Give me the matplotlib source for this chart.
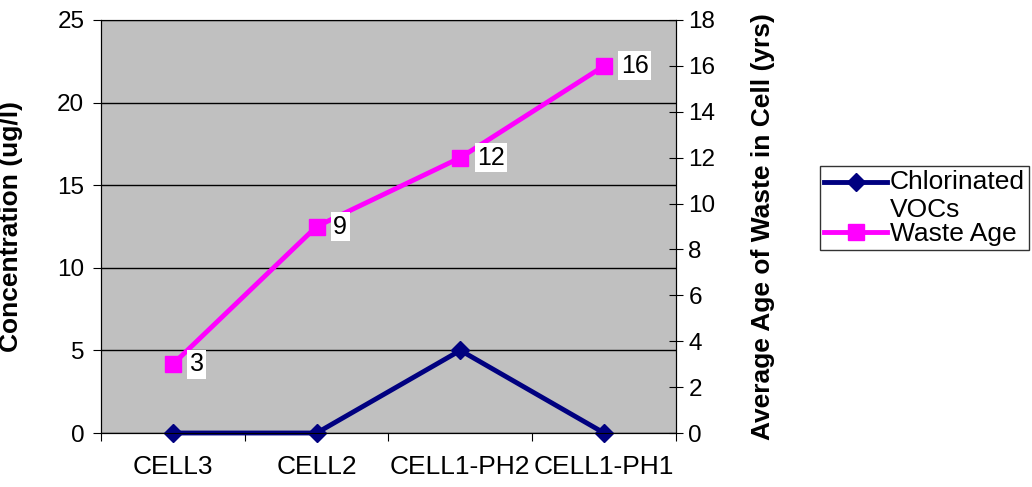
import matplotlib
matplotlib.use("Agg")
import matplotlib.pyplot as plt
from matplotlib.legend_handler import HandlerLine2D

plt.rcParams['font.family'] = ['Liberation Sans', 'DejaVu Sans']

cells = ["CELL3", "CELL2", "CELL1-PH2", "CELL1-PH1"]
voc_conc = [0, 0, 5, 0]
waste_age = [3, 9, 12, 16]


class FirstLineHandler(HandlerLine2D):
    # put the legend marker next to the first line of a two-line label
    def create_artists(self, legend, orig_handle, xdescent, ydescent, width, height, fontsize, trans):
        return super().create_artists(legend, orig_handle, xdescent, ydescent - 21,
                                      width, height, fontsize, trans)


fig = plt.figure(figsize=(10.32, 4.87), dpi=100)
ax = fig.add_axes([101 / 1032, 54 / 487, 575 / 1032, 413 / 487])
ax.set_facecolor("#C0C0C0")

x = list(range(len(cells)))
voc_line, = ax.plot(x, voc_conc, color="#000080", lw=3.5, marker="D", ms=9, label="Chlorinated\nVOCs",
                    zorder=3, clip_on=False)
ax.set_xlim(-0.5, len(cells) - 0.5)
ax.set_ylim(0, 25)
ax.set_yticks(range(0, 26, 5))
ax.set_xticks([i - 0.5 for i in range(len(cells) + 1)])
ax.set_xticklabels([])
ax.set_xticks(x, minor=True)
ax.set_xticklabels(cells, minor=True)
ax.tick_params(axis="x", which="minor", length=0, pad=16, labelsize=19)
ax.tick_params(axis="x", which="major", length=6, direction="out")
ax.tick_params(axis="y", length=6, direction="out", labelsize=17.5, pad=6)
ax.yaxis.grid(True, color="black", lw=1)
ax.set_axisbelow(True)
ax.set_ylabel("Concentration (ug/l)", fontsize=19, fontweight="bold")
ax.yaxis.set_label_coords(-0.136, 0.5)
ax.spines["top"].set_color("#808080")

ax2 = ax.twinx()
ax2.plot(x, waste_age, color="#FF00FF", lw=3.5, marker="s", ms=11, label="Waste Age", zorder=3)
ax2.set_ylim(0, 18)
ax2.set_yticks(range(0, 19, 2))
ax2.tick_params(axis="y", length=10, direction="inout", labelsize=17.5, pad=4)
ax2.set_ylabel("Average Age of Waste in Cell (yrs)", fontsize=19, fontweight="bold")
ax2.yaxis.set_label_coords(1.13, 0.5)
for xi, v in zip(x, waste_age):
    ax2.annotate(str(v), (xi, v), xytext=(12, 0), textcoords="offset points",
                 ha="left", va="center", fontsize=18,
                 bbox=dict(boxstyle="square,pad=0.1", fc="white", ec="none"))

h1, l1 = ax.get_legend_handles_labels()
h2, l2 = ax2.get_legend_handles_labels()
fig.legend(h1 + h2, l1 + l2, loc="upper left", bbox_to_anchor=(820 / 1032, 1 - 166 / 487),
           fontsize=19, frameon=True, fancybox=False, edgecolor="black",
           handlelength=2.4, labelspacing=0.0, borderpad=0.15, handletextpad=0.1,
           borderaxespad=0, handler_map={voc_line: FirstLineHandler()})

fig.savefig("out.png", dpi=100)
